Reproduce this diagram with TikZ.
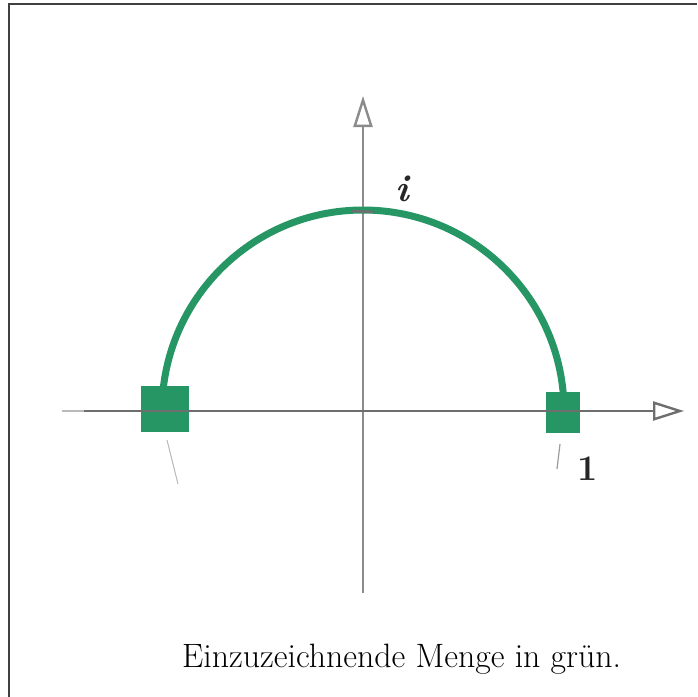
\documentclass[tikz,border=0pt]{standalone}
\usetikzlibrary{arrows.meta}
\definecolor{pencil}{RGB}{110,110,110}
\definecolor{faint}{RGB}{185,185,185}
\definecolor{setgreen}{RGB}{38,150,100}
\begin{document}
\begin{tikzpicture}[x=1pt,y=-1pt,
  axisline/.style={draw=pencil,line width=2pt},
  openhead/.style={-{Triangle[open,length=31pt,width=19pt,line width=2.4pt]}},
  setline/.style={draw=setgreen,line width=7pt},
  endbox/.style={fill=setgreen,draw=none},
  handlabel/.style={inner sep=0pt,text=black!85}]
\useasboundingbox (0,0) rectangle (697,697);
% frame (only top and left visible)
\draw[black!75,line width=2pt] (9,697) -- (9,4) -- (697,4);
% coordinates
\coordinate (O) at (363,411);
\coordinate (xs) at (62,411);
\coordinate (xe) at (684,411);
\coordinate (yb) at (363,593);
\coordinate (yt) at (363,96);
% axes
\draw[faint,line width=1.2pt] (xs) -- (84,411);
\draw[axisline,openhead] (84,411) -- (xe);
\draw[axisline,draw=pencil!80,openhead] (yb) -- (yt);
% green semicircle
\draw[setline] (162,411) arc[start angle=180,end angle=360,radius=201];
\draw[pencil,line width=2.5pt] (352,211) -- (374,212);
% end boxes
\fill[endbox] (141,386) rectangle (189,432);
\fill[endbox] (546,392) rectangle (580,433);
\draw[pencil,line width=2pt] (84,411) -- (600,411);
% ticks
\draw[faint,line width=1pt] (167,440) -- (178,484);
\draw[pencil!70,line width=1.2pt] (560,444) -- (557,469);
% labels
\node[handlabel] (ilab) at (402,189) {\fontsize{38}{38}\selectfont\bfseries\itshape i};
\node[handlabel] (onelab) at (588,469) {\fontsize{36}{36}\selectfont\bfseries 1};
% caption
\node[anchor=base west,inner sep=0pt] (cap) at (182,667)
  {\fontsize{33.8}{40}\selectfont Einzuzeichnende Menge in grün.};
\end{tikzpicture}
\end{document}
